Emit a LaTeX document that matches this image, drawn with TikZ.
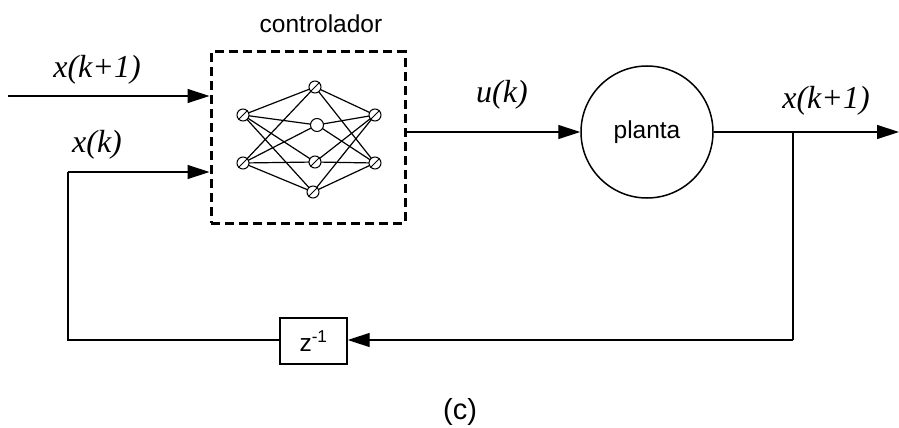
\documentclass[tikz,border=0pt]{standalone}
\usepackage{fontspec}
\setmainfont{Liberation Serif}
\setsansfont{Liberation Sans}
\usetikzlibrary{arrows.meta}
\begin{document}
\begin{tikzpicture}[x=1pt,y=-1pt,
  wire/.style={line width=1.3pt},
  arr/.style={wire,-{Triangle[length=22pt,width=14pt]}},
  lbl/.style={font=\fontsize{32}{32}\selectfont\itshape, inner sep=0pt},
  sflbl/.style={font=\sffamily\fontsize{24.5}{24.5}\selectfont, inner sep=0pt},
  nn/.style={circle, draw, fill=white, line width=1pt, minimum size=12pt, inner sep=0pt},
  nnline/.style={line width=1.2pt}]
\useasboundingbox (0,0) rectangle (899,428);
% controller box
\node[draw, dashed, dash pattern=on 9pt off 5pt, line width=3pt, minimum width=194pt, minimum height=171pt, inner sep=0pt] (ctrl) at (308,137.5) {};
\node[sflbl] (ctrllbl) at (321,24) {controlador};
% neural net nodes
\coordinate (T) at (315,87);
\coordinate (LU) at (243,115);
\coordinate (M1) at (317,125);
\coordinate (RU) at (375,115);
\coordinate (LL) at (243,163);
\coordinate (M2) at (315,162);
\coordinate (RL) at (375,163);
\coordinate (B) at (313,192);
\foreach \a in {LU,LL}{\foreach \b in {T,M1,M2,B}{\draw[nnline] (\a) -- (\b);}}
\foreach \a in {T,M1,M2,B}{\foreach \b in {RU,RL}{\draw[nnline] (\a) -- (\b);}}
\foreach \n in {T,LU,RU,LL,M2,RL,B}{
  \node[nn] (n\n) at (\n) {};
  \draw[line width=0.8pt] (n\n.south west) -- (n\n.north east);
}
\node[nn, minimum size=13pt] (nM1) at (M1) {};
% plant
\node[circle, draw, line width=1.5pt, minimum size=132pt, inner sep=0pt, sflbl] (plant) at (647,132) {planta};
% z^-1 box
\node[draw, line width=1.4pt, minimum width=67pt, minimum height=46pt, inner sep=0pt, sflbl] (zbox) at (313.5,341) {z\textsuperscript{-1}};
% coordinates
\coordinate (in1) at (8,96);
\coordinate (br) at (793,132);
\coordinate (out) at (899,132);
\coordinate (fbr) at (793,340);
\coordinate (fbl) at (68,340);
\coordinate (fbu) at (68,172);
% connectors
\draw[arr] (in1) -- (ctrl.west |- in1);
\draw[arr] (fbu) -- (ctrl.west |- fbu);
\draw[arr] (ctrl.east |- plant) -- (plant.west);
\draw[arr] (plant.east) -- (out);
\draw[wire] (br) -- (fbr);
\draw[arr] (fbr) -- (zbox.east |- fbr);
\draw[wire] (zbox.west |- fbl) -- (fbl) -- (fbu);
% labels
\node[lbl] (l1) at (97,70) {x(k+1)};
\node[lbl] (l2) at (97,145) {x(k)};
\node[lbl] (l3) at (502,95) {u(k)};
\node[lbl] (l4) at (826,101) {x(k+1)};
\node[font=\sffamily\fontsize{29}{29}\selectfont, inner sep=0pt] (cap) at (460,412) {(c)};
\end{tikzpicture}
\end{document}
